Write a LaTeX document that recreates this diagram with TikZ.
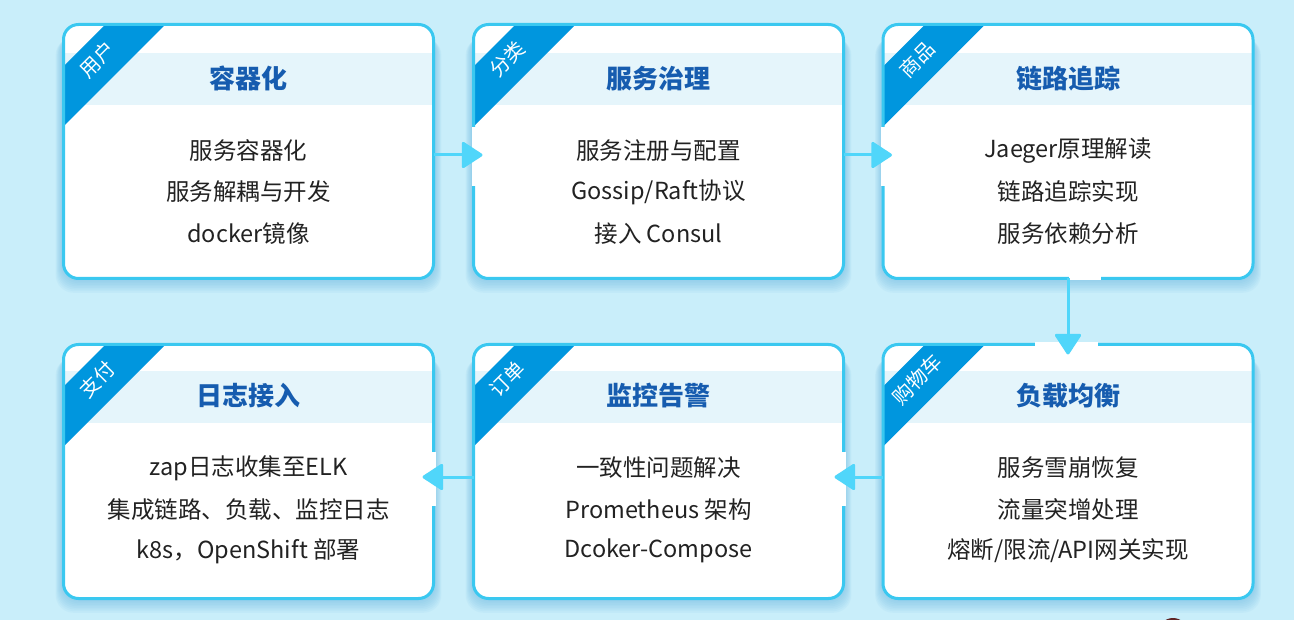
\documentclass[tikz,border=0pt]{standalone}
\usepackage{fontspec}
\setmainfont{Noto Sans CJK SC}
\usetikzlibrary{calc,arrows.meta}
\definecolor{bgc}{RGB}{201,238,250}
\definecolor{borderc}{RGB}{58,200,240}
\definecolor{arrowc}{RGB}{80,214,250}
\definecolor{headc}{RGB}{229,245,251}
\definecolor{ribc}{RGB}{0,150,222}
\definecolor{titlec}{RGB}{22,92,175}
\definecolor{textc}{RGB}{34,34,34}
\definecolor{shadowc}{RGB}{100,180,225}
\definecolor{blobc}{RGB}{95,35,35}
\tikzset{
  cardbox/.style={rectangle, fill=white, minimum width=370pt, minimum height=254pt, outer sep=0pt, inner sep=0pt, rounded corners=15pt},
  cardborder/.style={draw=borderc, line width=3pt, rounded corners=15pt},
  ribtext/.style={text=white, font=\fontsize{20}{20}\selectfont, inner sep=0pt, rotate=45},
  titletext/.style={text=titlec, font=\fontsize{26}{26}\selectfont\bfseries, inner sep=0pt},
  bodytext/.style={text=textc, font=\fontsize{23.5}{23.5}\selectfont, inner sep=0pt},
  flow/.style={draw=arrowc, line width=3pt, -{Triangle[length=22pt,width=28pt,round]}},
  gapfill/.style={fill=white}
}
\newcommand\cardshadow[2]{%
  \foreach \s in {1,...,8}{
    \fill[shadowc, opacity=0.07, rounded corners=18pt]
      ($(#1,#2)+(-186.5-\s*0.8,-118+\s*0.5)$) rectangle ($(#1,#2)+(186.5+\s*0.8,128.5+\s*1.6)$);
  }%
}
\newcommand\mkcard[9]{%
  \node[cardbox] (#1) at (#2,#3) {};
  \begin{scope}
    \clip[rounded corners=15pt] (#1.north west) rectangle (#1.south east);
    \fill[headc] ($(#1.north west)+(0,#9+29)$) rectangle ($(#1.north east)+(0,#9+81)$);
    \fill[ribc] ($(#1.north west)+(0,42)$) -- ($(#1.north west)+(42,0)$) -- ($(#1.north west)+(102,0)$) -- ($(#1.north west)+(0,102)$) -- cycle;
  \end{scope}
  \draw[cardborder] (#1.north west) rectangle (#1.south east);
  \node[ribtext] (#1r) at ($(#1.north west)+(34,35)$) {#4};
  \node[titletext] (#1t) at ($(#1.north)+(0,#9+54)$) {#5};
  \node[bodytext] (#1a) at ($(#1.north)+(0,#9+126)$) {#6};
  \node[bodytext] (#1b) at ($(#1.north)+(0,#9+167.5)$) {#7};
  \node[bodytext] (#1c) at ($(#1.north)+(0,#9+209)$) {#8};
}
\begin{document}
\begin{tikzpicture}[x=1pt,y=-1pt]
\useasboundingbox (0,0) rectangle (1294,620);
\clip (0,0) rectangle (1294,620);
\fill[bgc] (0,0) rectangle (1294,620);
\fill[blobc] (1173,633) circle (15);
% shadows
\cardshadow{248.5}{151.5}
\cardshadow{658.5}{151.5}
\cardshadow{1068}{151.5}
\cardshadow{248.5}{471.5}
\cardshadow{658.5}{471.5}
\cardshadow{1068}{471.5}
% cards
\mkcard{c1}{248.5}{151.5}{用户}{容器化}{服务容器化}{服务解耦与开发}{docker镜像}{0}
\mkcard{c2}{658.5}{151.5}{分类}{服务治理}{服务注册与配置}{Gossip/Raft协议}{接入 Consul}{0}
\mkcard{c3}{1068}{151.5}{商品}{链路追踪}{Jaeger原理解读}{链路追踪实现}{服务依赖分析}{0}
\mkcard{c6}{1068}{471.5}{购物车}{负载均衡}{服务雪崩恢复}{流量突增处理}{熔断/限流/API网关实现}{-2.5}
\mkcard{c5}{658.5}{471.5}{订单}{监控告警}{一致性问题解决}{Prometheus 架构}{Dcoker-Compose}{-2.5}
\mkcard{c4}{248.5}{471.5}{支付}{日志接入}{zap日志收集至ELK}{集成链路、负载、监控日志}{k8s，OpenShift 部署}{-2.5}
% gaps in borders where arrows enter
\fill[gapfill] ($(c2.west)+(-2,-24)$) rectangle ($(c2.west)+(2,35)$);
\fill[gapfill] ($(c3.west)+(-2,-24)$) rectangle ($(c3.west)+(2,35)$);
\fill[gapfill] ($(c6.north)+(-33,-2)$) rectangle ($(c6.north)+(30,2)$);
\fill[gapfill] ($(c3.south)+(1,-2)$) rectangle ($(c3.south)+(33,2)$);
\fill[gapfill] ($(c4.east)+(-2,-20)$) rectangle ($(c4.east)+(2,34)$);
\fill[gapfill] ($(c5.east)+(-2,-20)$) rectangle ($(c5.east)+(2,34)$);
% arrows
\draw[flow] ($(c1.east)+(0,3.5)$) -- ($(c2.west)+(9,3.5)$);
\draw[flow] ($(c2.east)+(0,3.5)$) -- ($(c3.west)+(9,3.5)$);
\draw[flow] (c3.south) -- ($(c6.north)+(0,10)$);
\draw[flow] ($(c6.west)+(0,5.5)$) -- ($(c5.east)+(-9,5.5)$);
\draw[flow] ($(c5.west)+(0,5.5)$) -- ($(c4.east)+(-11,5.5)$);
\end{tikzpicture}
\end{document}
